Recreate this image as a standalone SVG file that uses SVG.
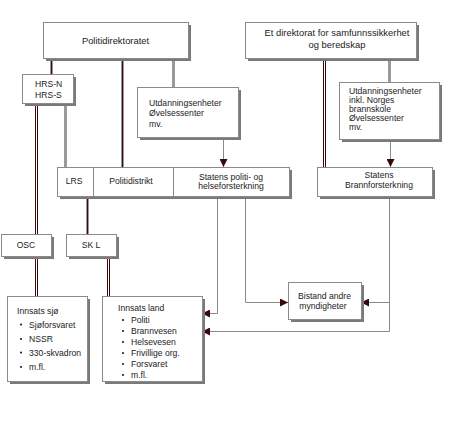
<svg xmlns="http://www.w3.org/2000/svg" width="460" height="423" viewBox="0 0 460 423">
<defs>
<marker id="arr" markerUnits="userSpaceOnUse" markerWidth="8" markerHeight="8" viewBox="0 0 8 8" refX="8" refY="4" orient="auto">
<path d="M0,0 L8,4 L0,8 Z" fill="#3a0808"/>
</marker>
</defs>
<style>
text{font-family:"Liberation Sans",Arial,sans-serif;font-size:8.6px;fill:#222}
.h{font-size:9.4px}
.box{fill:#fff;stroke:#8a8a8a;stroke-width:1}
.sh{fill:#7a7a7a}
.gray{stroke:#9a9a9a;stroke-width:3;fill:none}
.core{stroke:#3a0808;stroke-width:1;fill:none}
.dbl{stroke:#3a0808;stroke-width:1;fill:none}
.thin{stroke:#8a8a8a;stroke-width:1;fill:none;marker-end:url(#arr)}
</style>
<rect width="460" height="423" fill="#fff"/>
<g id="connectors">
<path class="gray" d="M51.5,58V74M122.5,58V167M87.5,196V234"/>
<path class="core" d="M51.5,58V74M122.5,58V167M87.5,196V234"/>
<path class="dbl" d="M35.5,103V234M37.5,103V234M35.5,256V296M37.5,256V296M107.5,256V296M109.5,256V296M323.5,58V167M325.5,58V167"/>
<path class="gray" d="M65.5,103V167M173.5,58V87M389.5,58V82"/>
<path class="thin" d="M223.5,137V167"/>
<path class="thin" d="M390.5,139V167"/>
<path class="thin" d="M217.5,196V313.5H202"/>
<path class="thin" d="M245.5,196V302.5H288"/>
<path class="thin" d="M389.5,196V331.5H202"/>
<path class="thin" d="M389.5,302.5H361"/>
</g>
<g id="politidirektoratet">
<rect class="sh" x="46" y="25" width="145" height="36"/>
<rect class="box" x="43.5" y="22.5" width="145" height="36"/>
<text class="h" x="115.5" y="43.5" text-anchor="middle">Politidirektoratet</text>
</g>
<g id="dsb">
<rect class="sh" x="248" y="25" width="171" height="36"/>
<rect class="box" x="245.5" y="22.5" width="171" height="36"/>
<text class="h" x="337" y="36" text-anchor="middle">Et direktorat for samfunnssikkerhet</text>
<text class="h" x="337" y="48" text-anchor="middle">og beredskap</text>
</g>
<g id="hrs">
<rect class="sh" x="25" y="77" width="51" height="29"/>
<rect class="box" x="22.5" y="74.5" width="51" height="29"/>
<text x="35" y="87">HRS-N</text>
<text x="35" y="98">HRS-S</text>
</g>
<g id="utdanning-politi">
<rect class="sh" x="140" y="90" width="101" height="50"/>
<rect class="box" x="137.5" y="87.5" width="101" height="50"/>
<text x="149" y="106">Utdanningsenheter</text>
<text x="149" y="116">Øvelsessenter</text>
<text x="149" y="127">mv.</text>
</g>
<g id="utdanning-dsb">
<rect class="sh" x="342" y="85" width="100" height="57"/>
<rect class="box" x="339.5" y="82.5" width="100" height="57"/>
<text x="349" y="94">Utdanningsenheter</text>
<text x="349" y="103">inkl. Norges</text>
<text x="349" y="112">brannskole</text>
<text x="349" y="121">Øvelsessenter</text>
<text x="349" y="130">mv.</text>
</g>
<g id="lrs">
<rect class="sh" x="60" y="170" width="232" height="29"/>
<rect class="box" x="57.5" y="167.5" width="36" height="29"/>
<text x="74" y="184" text-anchor="middle">LRS</text>
</g>
<g id="politidistrikt">
<rect class="box" x="93.5" y="167.5" width="80" height="29"/>
<text x="131" y="184" text-anchor="middle">Politidistrikt</text>
</g>
<g id="statens-politi">
<rect class="box" x="173.5" y="167.5" width="116" height="29"/>
<text x="231" y="180" text-anchor="middle">Statens politi- og</text>
<text x="231" y="189" text-anchor="middle">helseforsterkning</text>
</g>
<g id="statens-brann">
<rect class="sh" x="320" y="170" width="115" height="29"/>
<rect class="box" x="317.5" y="167.5" width="115" height="29"/>
<text x="379" y="178" text-anchor="middle">Statens</text>
<text x="379" y="188" text-anchor="middle">Brannforsterkning</text>
</g>
<g id="osc">
<rect class="sh" x="4" y="237" width="50" height="22"/>
<rect class="box" x="1.5" y="234.5" width="50" height="22"/>
<text x="26" y="248" text-anchor="middle">OSC</text>
</g>
<g id="skl">
<rect class="sh" x="69" y="237" width="50" height="22"/>
<rect class="box" x="66.5" y="234.5" width="50" height="22"/>
<text x="91" y="248" text-anchor="middle">SK L</text>
</g>
<g id="innsats-sjo">
<rect class="sh" x="10" y="299" width="80" height="85"/>
<rect class="box" x="7.5" y="296.5" width="80" height="85"/>
<text x="17" y="314">Innsats sjø</text>
<g fill="#222"><circle cx="21" cy="324.5" r="1.1"/><circle cx="21" cy="339" r="1.1"/><circle cx="21" cy="352.5" r="1.1"/><circle cx="21" cy="367" r="1.1"/></g>
<text x="29" y="327.5">Sjøforsvaret</text>
<text x="29" y="342">NSSR</text>
<text x="29" y="355.5">330-skvadron</text>
<text x="29" y="370">m.fl.</text>
</g>
<g id="innsats-land">
<rect class="sh" x="105" y="299" width="100" height="85"/>
<rect class="box" x="102.5" y="296.5" width="100" height="85"/>
<text x="118" y="311">Innsats land</text>
<g fill="#222"><circle cx="123" cy="320" r="1.1"/><circle cx="123" cy="331" r="1.1"/><circle cx="123" cy="342" r="1.1"/><circle cx="123" cy="353" r="1.1"/><circle cx="123" cy="364" r="1.1"/><circle cx="123" cy="375" r="1.1"/></g>
<text x="131" y="322.5">Politi</text>
<text x="131" y="333.5">Brannvesen</text>
<text x="131" y="344.5">Helsevesen</text>
<text x="131" y="355.5">Frivillige org.</text>
<text x="131" y="366.5">Forsvaret</text>
<text x="131" y="377.5">m.fl.</text>
</g>
<g id="bistand">
<rect class="sh" x="291" y="285" width="73" height="37"/>
<rect class="box" x="288.5" y="282.5" width="73" height="37"/>
<text x="324.5" y="299" text-anchor="middle">Bistand andre</text>
<text x="323" y="309" text-anchor="middle">myndigheter</text>
</g>
</svg>
